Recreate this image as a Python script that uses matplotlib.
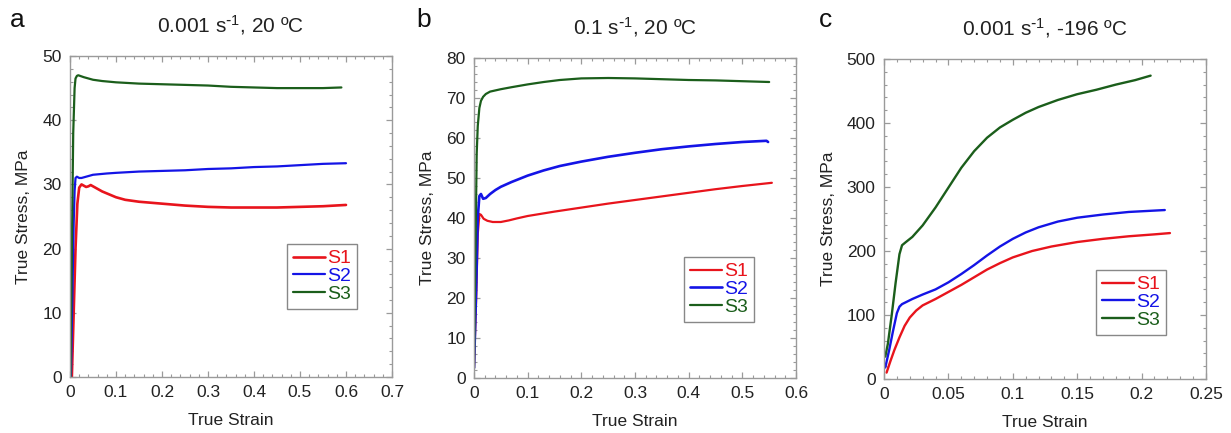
import matplotlib
matplotlib.use("Agg")
import matplotlib.pyplot as plt
from matplotlib.ticker import MultipleLocator, AutoMinorLocator

plt.rcParams['font.family'] = ['Liberation Sans', 'DejaVu Sans']
plt.rcParams['mathtext.default'] = 'regular'

# ---------------- Data ----------------
labels = ["S1", "S2", "S3"]
colors = ["#e8141c", "#1414e6", "#1b5e1b"]

# Panel a: 0.001 s-1, 20 C
a_s1_x = [0.004, 0.008, 0.012, 0.016, 0.020, 0.025, 0.030, 0.035, 0.040, 0.045, 0.050, 0.060, 0.070,
          0.080, 0.100, 0.120, 0.150, 0.200, 0.250, 0.300, 0.350, 0.400, 0.450, 0.500, 0.550, 0.600]
a_s1_y = [0.0, 10.0, 20.0, 27.0, 29.5, 30.0, 29.8, 29.6, 29.7, 29.9, 29.7, 29.3, 28.9,
          28.6, 28.0, 27.6, 27.3, 27.0, 26.7, 26.5, 26.4, 26.4, 26.4, 26.5, 26.6, 26.8]
a_s2_x = [0.002, 0.005, 0.008, 0.010, 0.012, 0.015, 0.020, 0.025, 0.030, 0.050, 0.080, 0.100,
          0.150, 0.200, 0.250, 0.300, 0.350, 0.400, 0.450, 0.500, 0.550, 0.600]
a_s2_y = [0.0, 12.0, 24.0, 29.0, 31.0, 31.2, 31.0, 31.0, 31.1, 31.5, 31.7, 31.8,
          32.0, 32.1, 32.2, 32.4, 32.5, 32.7, 32.8, 33.0, 33.2, 33.3]
a_s3_x = [0.001, 0.004, 0.007, 0.010, 0.012, 0.015, 0.018, 0.022, 0.030, 0.040, 0.050, 0.070,
          0.100, 0.150, 0.200, 0.250, 0.300, 0.350, 0.400, 0.450, 0.500, 0.550, 0.590]
a_s3_y = [0.0, 20.0, 38.0, 45.0, 46.5, 46.9, 47.0, 46.9, 46.7, 46.5, 46.3, 46.1,
          45.9, 45.7, 45.6, 45.5, 45.4, 45.2, 45.1, 45.0, 45.0, 45.0, 45.1]

# Panel b: 0.1 s-1, 20 C
b_s1_x = [0.000, 0.004, 0.007, 0.010, 0.013, 0.018, 0.025, 0.035, 0.050, 0.065, 0.080, 0.100,
          0.150, 0.200, 0.250, 0.300, 0.350, 0.400, 0.450, 0.500, 0.555]
b_s1_y = [2.5, 20.0, 36.0, 41.0, 40.8, 39.8, 39.3, 39.0, 39.0, 39.4, 39.9, 40.5,
          41.6, 42.6, 43.6, 44.5, 45.4, 46.3, 47.2, 48.0, 48.8]
b_s2_x = [0.000, 0.004, 0.007, 0.010, 0.013, 0.017, 0.022, 0.030, 0.040, 0.050, 0.070, 0.100,
          0.130, 0.160, 0.200, 0.250, 0.300, 0.350, 0.400, 0.450, 0.500, 0.545, 0.548]
b_s2_y = [2.5, 22.0, 40.0, 45.5, 46.0, 44.8, 45.0, 46.0, 47.0, 47.8, 49.0, 50.6,
          51.9, 53.0, 54.1, 55.3, 56.3, 57.2, 57.9, 58.5, 59.0, 59.3, 59.0]
b_s3_x = [0.000, 0.003, 0.005, 0.007, 0.010, 0.013, 0.017, 0.022, 0.030, 0.040, 0.050, 0.070,
          0.100, 0.130, 0.160, 0.200, 0.250, 0.300, 0.350, 0.400, 0.450, 0.500, 0.550]
b_s3_y = [2.5, 35.0, 56.0, 63.0, 67.5, 69.3, 70.3, 71.0, 71.6, 71.9, 72.2, 72.7,
          73.4, 74.0, 74.5, 74.9, 75.0, 74.9, 74.7, 74.5, 74.4, 74.2, 74.0]

# Panel c: 0.001 s-1, -196 C
c_s1_x = [0.002, 0.005, 0.008, 0.012, 0.016, 0.020, 0.025, 0.030, 0.040, 0.050, 0.060, 0.070,
          0.080, 0.090, 0.100, 0.115, 0.130, 0.150, 0.170, 0.190, 0.210, 0.222]
c_s1_y = [10.0, 28.0, 45.0, 65.0, 83.0, 96.0, 107.0, 115.0, 125.0, 136.0, 147.0, 159.0,
          171.0, 181.0, 190.0, 200.0, 207.0, 214.0, 219.0, 223.0, 226.0, 228.0]
c_s2_x = [0.001, 0.004, 0.007, 0.010, 0.012, 0.014, 0.017, 0.022, 0.030, 0.040, 0.050, 0.060,
          0.070, 0.080, 0.090, 0.100, 0.110, 0.120, 0.135, 0.150, 0.170, 0.190, 0.218]
c_s2_y = [18.0, 45.0, 75.0, 103.0, 113.0, 117.0, 120.0, 125.0, 132.0, 140.0, 151.0, 164.0,
          178.0, 193.0, 207.0, 219.0, 229.0, 237.0, 246.0, 252.0, 257.0, 261.0, 264.0]
c_s3_x = [0.001, 0.003, 0.006, 0.009, 0.012, 0.014, 0.017, 0.022, 0.030, 0.040, 0.050, 0.060,
          0.070, 0.080, 0.090, 0.100, 0.110, 0.120, 0.135, 0.150, 0.165, 0.180, 0.195, 0.207]
c_s3_y = [35.0, 55.0, 100.0, 150.0, 195.0, 209.0, 214.0, 222.0, 240.0, 268.0, 299.0, 330.0,
          356.0, 377.0, 393.0, 405.0, 416.0, 425.0, 436.0, 445.0, 452.0, 460.0, 467.0, 474.0]

a_xticklabels = ["0", "0.1", "0.2", "0.3", "0.4", "0.5", "0.6", "0.7"]
b_xticklabels = ["0", "0.1", "0.2", "0.3", "0.4", "0.5", "0.6"]
c_xticklabels = ["0", "0.05", "0.1", "0.15", "0.2", "0.25"]

panels = [
    dict(letter="a", title=r"0.001 s$^{\text{-}1}$, 20 ºC",
         xs=[a_s1_x, a_s2_x, a_s3_x], ys=[a_s1_y, a_s2_y, a_s3_y],
         xlim=(0, 0.7), ylim=(0, 50), ymaj=10, xticklabels=a_xticklabels,
         box=(70, 392, 56, 377), leg=(287, 244), lw=[1.9, 1.6, 1.6]),
    dict(letter="b", title=r"0.1 s$^{\text{-}1}$, 20 ºC",
         xs=[b_s1_x, b_s2_x, b_s3_x], ys=[b_s1_y, b_s2_y, b_s3_y],
         xlim=(0, 0.6), ylim=(0, 80), ymaj=10, xticklabels=b_xticklabels,
         box=(474, 796, 58, 378), leg=(684, 257), lw=[1.6, 1.9, 1.6]),
    dict(letter="c", title=r"0.001 s$^{\text{-}1}$, -196 ºC",
         xs=[c_s1_x, c_s2_x, c_s3_x], ys=[c_s1_y, c_s2_y, c_s3_y],
         xlim=(0, 0.25), ylim=(0, 500), ymaj=100, xticklabels=c_xticklabels,
         box=(884, 1206, 59, 379), leg=(1096, 270), lw=[1.7, 1.7, 1.7]),
]

W, H = 1231, 433
fig = plt.figure(figsize=(W / 100, H / 100), dpi=100)
fig.patch.set_facecolor("white")

letter_x = [10, 416, 819]
frame_col = "#9a9a9a"

for i, p in enumerate(panels):
    l, r, t, b = p["box"]
    ax = fig.add_axes([l / W, (H - b) / H, (r - l) / W, (b - t) / H])
    for k in range(3):
        ax.plot(p["xs"][k], p["ys"][k], color=colors[k], lw=p["lw"][k], label=labels[k],
                solid_joinstyle="round", solid_capstyle="round")
    ticks = [float(s) for s in p["xticklabels"]]
    ax.set_xticks(ticks, p["xticklabels"])
    ax.set_xlim(*p["xlim"])
    ax.set_ylim(*p["ylim"])
    ax.yaxis.set_major_locator(MultipleLocator(p["ymaj"]))
    ax.xaxis.set_minor_locator(AutoMinorLocator(5))
    ax.yaxis.set_minor_locator(AutoMinorLocator(5))
    for s in ax.spines.values():
        s.set_color(frame_col)
        s.set_linewidth(1.0)
    ax.tick_params(which="both", direction="in", top=True, right=True, color=frame_col,
                   labelsize=12.5, labelcolor="#222222")
    ax.tick_params(which="major", length=4.5, width=0.9, pad=6)
    ax.tick_params(which="minor", length=2.5, width=0.8)
    ax.set_xlabel("True Strain", fontsize=12.5, color="#222222", labelpad=9)
    ax.set_ylabel("True Stress, MPa", fontsize=12.5, color="#222222", labelpad=8)
    ax.set_title(p["title"], fontsize=15, color="#222222", pad=17)

    lx, ly = p["leg"]
    leg = ax.legend(loc="upper left",
                    bbox_to_anchor=((lx - l) / (r - l), (b - ly) / (b - t)),
                    prop={"size": 14}, frameon=True, fancybox=False, framealpha=1,
                    edgecolor="#888888", handlelength=1.65, handletextpad=0.1,
                    labelspacing=0.0, borderpad=0.3, borderaxespad=0.0)
    leg.get_frame().set_linewidth(1.0)
    for txt, c in zip(leg.get_texts(), colors):
        txt.set_color(c)

    fig.text(letter_x[i] / W, 1 - 27 / H, p["letter"], fontsize=19, color="#111111",
             ha="left", va="baseline")

fig.savefig("out.png", dpi=100)
